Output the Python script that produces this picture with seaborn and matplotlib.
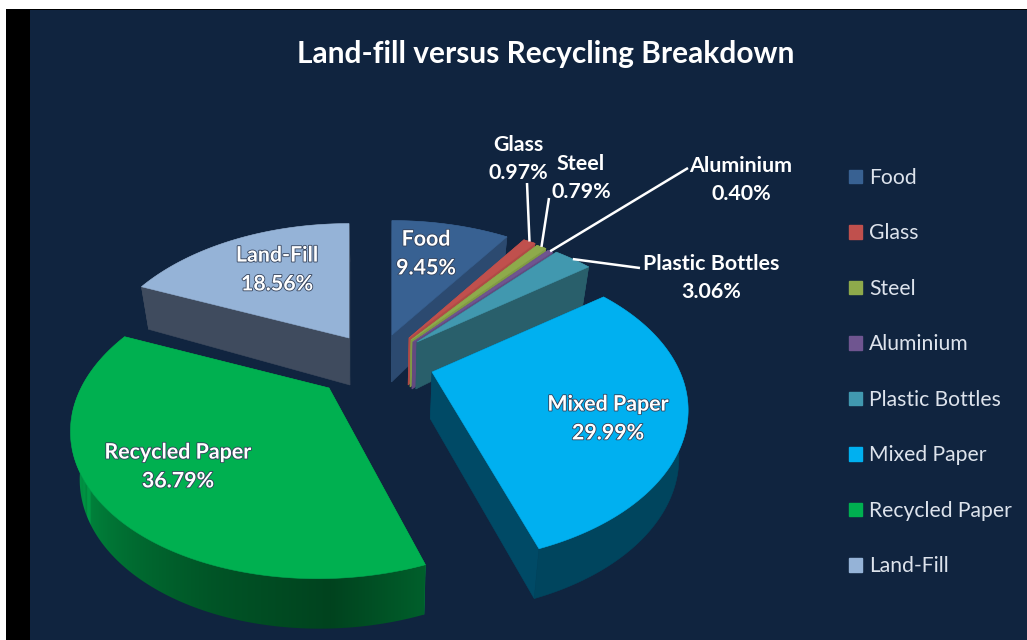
import numpy as np
import matplotlib
matplotlib.use("Agg")
import matplotlib.pyplot as plt
import matplotlib.patheffects as pe
from matplotlib.patches import Patch, Polygon, Rectangle
import seaborn as sns

# Waste stream shares, in percent
categories = ["Food", "Glass", "Steel", "Aluminium", "Plastic Bottles",
              "Mixed Paper", "Recycled Paper", "Land-Fill"]
shares = [9.45, 0.97, 0.79, 0.40, 3.06, 29.99, 36.79, 18.56]

face_hex = ["#386192", "#c0504d", "#8eaa4b", "#6f5590", "#4198af",
            "#00b0f0", "#00b050", "#95b3d7"]
wall_hex = ["#2c4a70", "#b04a46", "#7f9a44", "#634a80", "#295f6b",
            "#004a66", "#00863c", "#3f4b5e"]

# Apex of each exploded slice in figure pixels, and a sideways lean of its front
apex_x = [392, 409, 411, 413, 417, 432, 329, 349]
apex_y = [335, 338, 340, 342, 342, 372, 388, 338]
lean = [0, 0, 0, 0, 0, 0, -0.06, 0]

# Label centre positions (two lines each)
label_x = [426, 518, 581, 741, 711, 608, 178, 277]
label_y = [254, 159, 178, 180, 278, 419, 467, 270]
leader_end = {1: (527, 183), 2: (549, 198), 3: (688, 168), 4: (640, 268)}

NAVY = "#10243f"
RX, RY, PERSP = 248, 143, 0.25
VANISH_X = 380

sns.set_theme(style="dark", rc={"font.family": ["Lato", "DejaVu Sans"]})
face_colors = sns.color_palette(face_hex)
wall_colors = sns.color_palette(wall_hex)

fig = plt.figure(figsize=(10.27, 6.4), dpi=100, facecolor="white")
ax = fig.add_axes([0, 0, 1, 1])
ax.axis("off")

ax.add_patch(Rectangle((6, 9), 1021, 631, color="black", lw=0, zorder=0))
ax.add_patch(Rectangle((30, 10), 997, 630, color=NAVY, lw=0, zorder=0))


def project(theta, apex, skew=0.0, lower=False):
    """Map a rim angle (degrees clockwise from the back) to figure pixels."""
    t = np.radians(theta)
    w = 1 + PERSP * np.cos(t)
    dy = -RY * np.cos(t) / w
    x = apex[0] + RX * np.sin(t) / w + skew * dy
    y = apex[1] + dy
    if lower:
        y = y + np.interp(w, [0.75, 1.0, 1.2], [50, 47, 38])
        x = VANISH_X + (x - VANISH_X) * 0.97
    return np.column_stack([np.atleast_1d(x), np.atleast_1d(y)])


def apex_lower(apex):
    return (VANISH_X + (apex[0] - VANISH_X) * 0.97, apex[1] + 47)


def shaded_rim(i, thetas, upper, lower):
    """Recycled Paper's outer wall: shading that runs along the rim."""
    visible = thetas <= 270
    rim_x = lower[visible, 0]
    factor = np.interp(thetas[visible], [160, 178, 200, 230, 260],
                       [0.55, 0.38, 0.48, 0.68, 0.87])
    order = np.argsort(rim_x)
    grid = np.linspace(rim_x.min() - 8, rim_x.max() + 8, 500)
    strip = np.interp(grid, rim_x[order], factor[order])
    rgb = np.outer(strip, np.array(face_colors[i]))[np.newaxis, :, :]
    outline = Polygon(np.vstack([upper, lower[::-1]]), closed=True,
                      transform=ax.transData, fc="none", ec="none")
    top, bottom = np.vstack([upper, lower])[:, 1].min(), np.vstack([upper, lower])[:, 1].max()
    image = ax.imshow(rgb, extent=(grid[0], grid[-1], bottom, top), aspect="auto",
                      interpolation="bilinear", zorder=2)
    image.set_clip_path(outline)


total = sum(shares)
edges = np.concatenate([[0], np.cumsum(shares)]) / total * 360

# Back slices first so the nearer ones overlap them
for i in [7, 0, 1, 2, 3, 4, 6, 5]:
    apex = (apex_x[i], apex_y[i])
    low = apex_lower(apex)
    thetas = np.linspace(edges[i], edges[i + 1], 200)
    upper = project(thetas, apex, lean[i])
    lower = project(thetas, apex, lean[i], lower=True)

    # Straight cut walls
    for e_up, e_lo in ((upper[0], lower[0]), (upper[-1], lower[-1])):
        ax.add_patch(Polygon([apex, e_up, e_lo, low], closed=True,
                             fc=wall_colors[i], ec=wall_colors[i], lw=0.4, zorder=2))

    # Curved outer wall
    if categories[i] == "Recycled Paper":
        shaded_rim(i, thetas, upper, lower)
    else:
        rim = tuple(np.array(face_colors[i]) * 0.39) if categories[i] == "Mixed Paper" else wall_colors[i]
        ax.add_patch(Polygon(np.vstack([upper, lower[::-1]]), closed=True,
                             fc=rim, ec=rim, lw=0.4, zorder=2))

    # Top face
    ax.add_patch(Polygon(np.vstack([[apex], upper]), closed=True,
                         fc=face_colors[i], ec=face_colors[i], lw=0.4, zorder=2))

# Leader lines from the slice rim to the outside labels
for i, end in leader_end.items():
    apex = (apex_x[i], apex_y[i])
    start = project((edges[i] + edges[i + 1]) / 2, apex)[0]
    ax.plot([start[0], end[0]], [start[1], end[1]], color="white", lw=1.8,
            solid_capstyle="butt", zorder=5)

# Data labels
inside = {"Food", "Mixed Paper", "Recycled Paper", "Land-Fill"}
for name, val, lx, ly in zip(categories, shares, label_x, label_y):
    txt = ax.text(lx, ly, f"{name}\n{val:.2f}%", color="white", fontsize=15.4,
                  fontweight="bold", ha="center", va="center", linespacing=1.55, zorder=6)
    if name in inside:
        txt.set_path_effects([pe.withStroke(linewidth=1.2, foreground="#33415a")])

ax.text(546, 54, "Land-fill versus Recycling Breakdown", color="white", fontsize=21.5,
        fontweight="bold", ha="center", va="center", zorder=6)

handles = [Patch(facecolor=c, edgecolor=c, label=n) for n, c in zip(categories, face_colors)]
leg = ax.legend(handles=handles, loc="upper left", bbox_to_anchor=(849 / 1027, 1 - 168 / 640),
                frameon=False, fontsize=15.2, labelspacing=1.68, handlelength=0.62,
                handleheight=0.62, handletextpad=0.34, borderpad=0, borderaxespad=0)
for t in leg.get_texts():
    t.set_color("#dde3ec")

ax.set_xlim(0, 1027)
ax.set_ylim(640, 0)
fig.savefig("out.png", dpi=100, facecolor=fig.get_facecolor())
